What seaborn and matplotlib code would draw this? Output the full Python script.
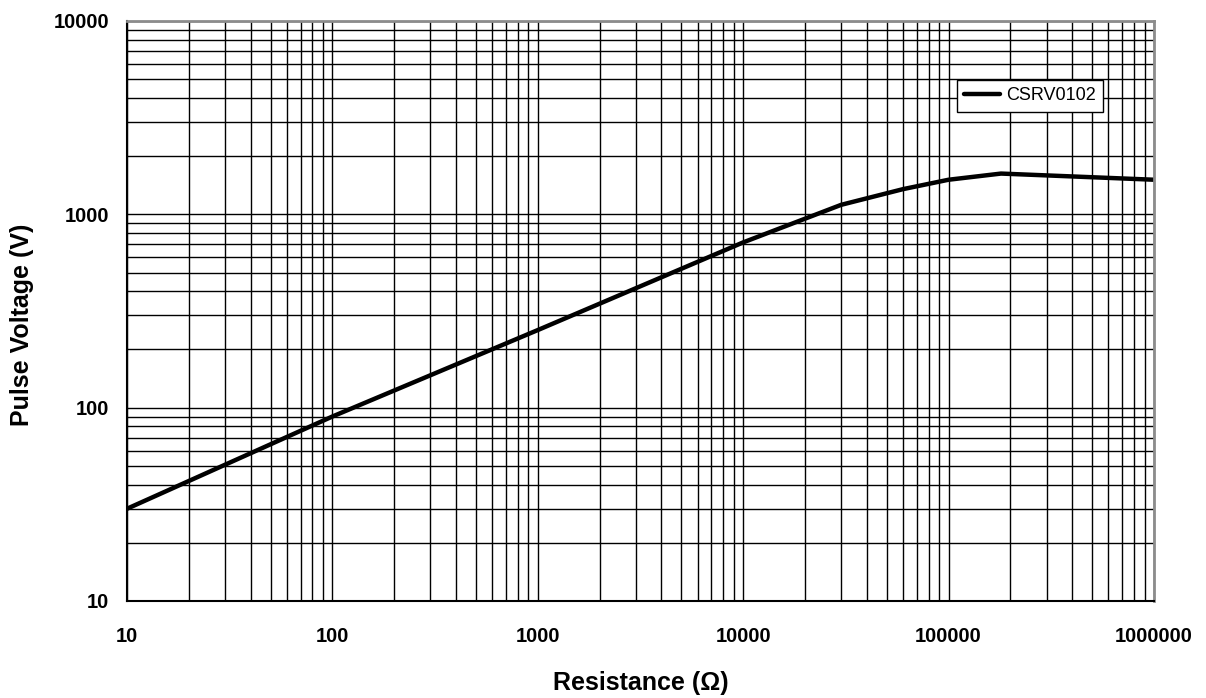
import matplotlib
matplotlib.use("Agg")
import matplotlib.pyplot as plt
import matplotlib.ticker as mticker
import seaborn as sns
import pandas as pd

# values
resistance = [10, 100, 1000, 10000, 30000, 60000, 100000, 180000, 1000000]
voltage = [30, 90, 252, 716, 1120, 1350, 1510, 1625, 1510]
series_name = "CSRV0102"

x_ticks = [10, 100, 1000, 10000, 100000, 1000000]
y_ticks = [10, 100, 1000, 10000]

sns.set_style("white")
plt.rcParams["font.family"] = ["Liberation Sans", "DejaVu Sans"]
plt.rcParams["text.color"] = "black"
plt.rcParams["axes.labelcolor"] = "black"
plt.rcParams["xtick.color"] = "black"
plt.rcParams["ytick.color"] = "black"

df = pd.DataFrame({"Resistance": resistance, "Voltage": voltage, "Series": series_name})

fig = plt.figure(figsize=(12.06, 6.98), dpi=100)
ax = fig.add_axes([127 / 1206, 1 - 601 / 698, 1027 / 1206, 580 / 698])

sns.lineplot(data=df, x="Resistance", y="Voltage", hue="Series", palette=["black"],
             linewidth=3.2, ax=ax, legend=True)

ax.set_xscale("log")
ax.set_yscale("log")
ax.set_xlim(10, 1000000)
ax.set_ylim(10, 10000)

ax.xaxis.set_major_locator(mticker.FixedLocator(x_ticks))
ax.yaxis.set_major_locator(mticker.FixedLocator(y_ticks))
for axis in (ax.xaxis, ax.yaxis):
    axis.set_minor_locator(mticker.LogLocator(base=10, subs=range(2, 10), numticks=20))
    axis.set_major_formatter(mticker.FuncFormatter(lambda v, p: f"{int(round(v))}"))
    axis.set_minor_formatter(mticker.NullFormatter())

ax.grid(which="both", color="black", linewidth=1.0)
ax.tick_params(which="both", length=0)
ax.tick_params(axis="x", pad=19, labelsize=14.5)
ax.tick_params(axis="y", pad=13, labelsize=14.5)
for lab in ax.get_xticklabels() + ax.get_yticklabels():
    lab.set_fontweight("bold")

for side in ("left", "bottom"):
    ax.spines[side].set_color("black")
    ax.spines[side].set_linewidth(1.5)
for side in ("top", "right"):
    ax.spines[side].set_color("#8c8c8c")
    ax.spines[side].set_linewidth(2)

ax.set_xlabel("Resistance (\u03a9)", fontsize=18, fontweight="bold", labelpad=18)
ax.set_ylabel("Pulse Voltage (V)", fontsize=18, fontweight="bold")
ax.yaxis.set_label_coords(-0.091, 0.476)

leg = ax.legend(loc="upper right", bbox_to_anchor=(0.95, 0.898), borderaxespad=0,
                fontsize=13, frameon=True, fancybox=False, framealpha=1,
                handlelength=2.0, handletextpad=0.3, borderpad=0.4)
leg.get_frame().set_edgecolor("black")
leg.get_frame().set_linewidth(1.0)

fig.savefig("out.png", dpi=100)
